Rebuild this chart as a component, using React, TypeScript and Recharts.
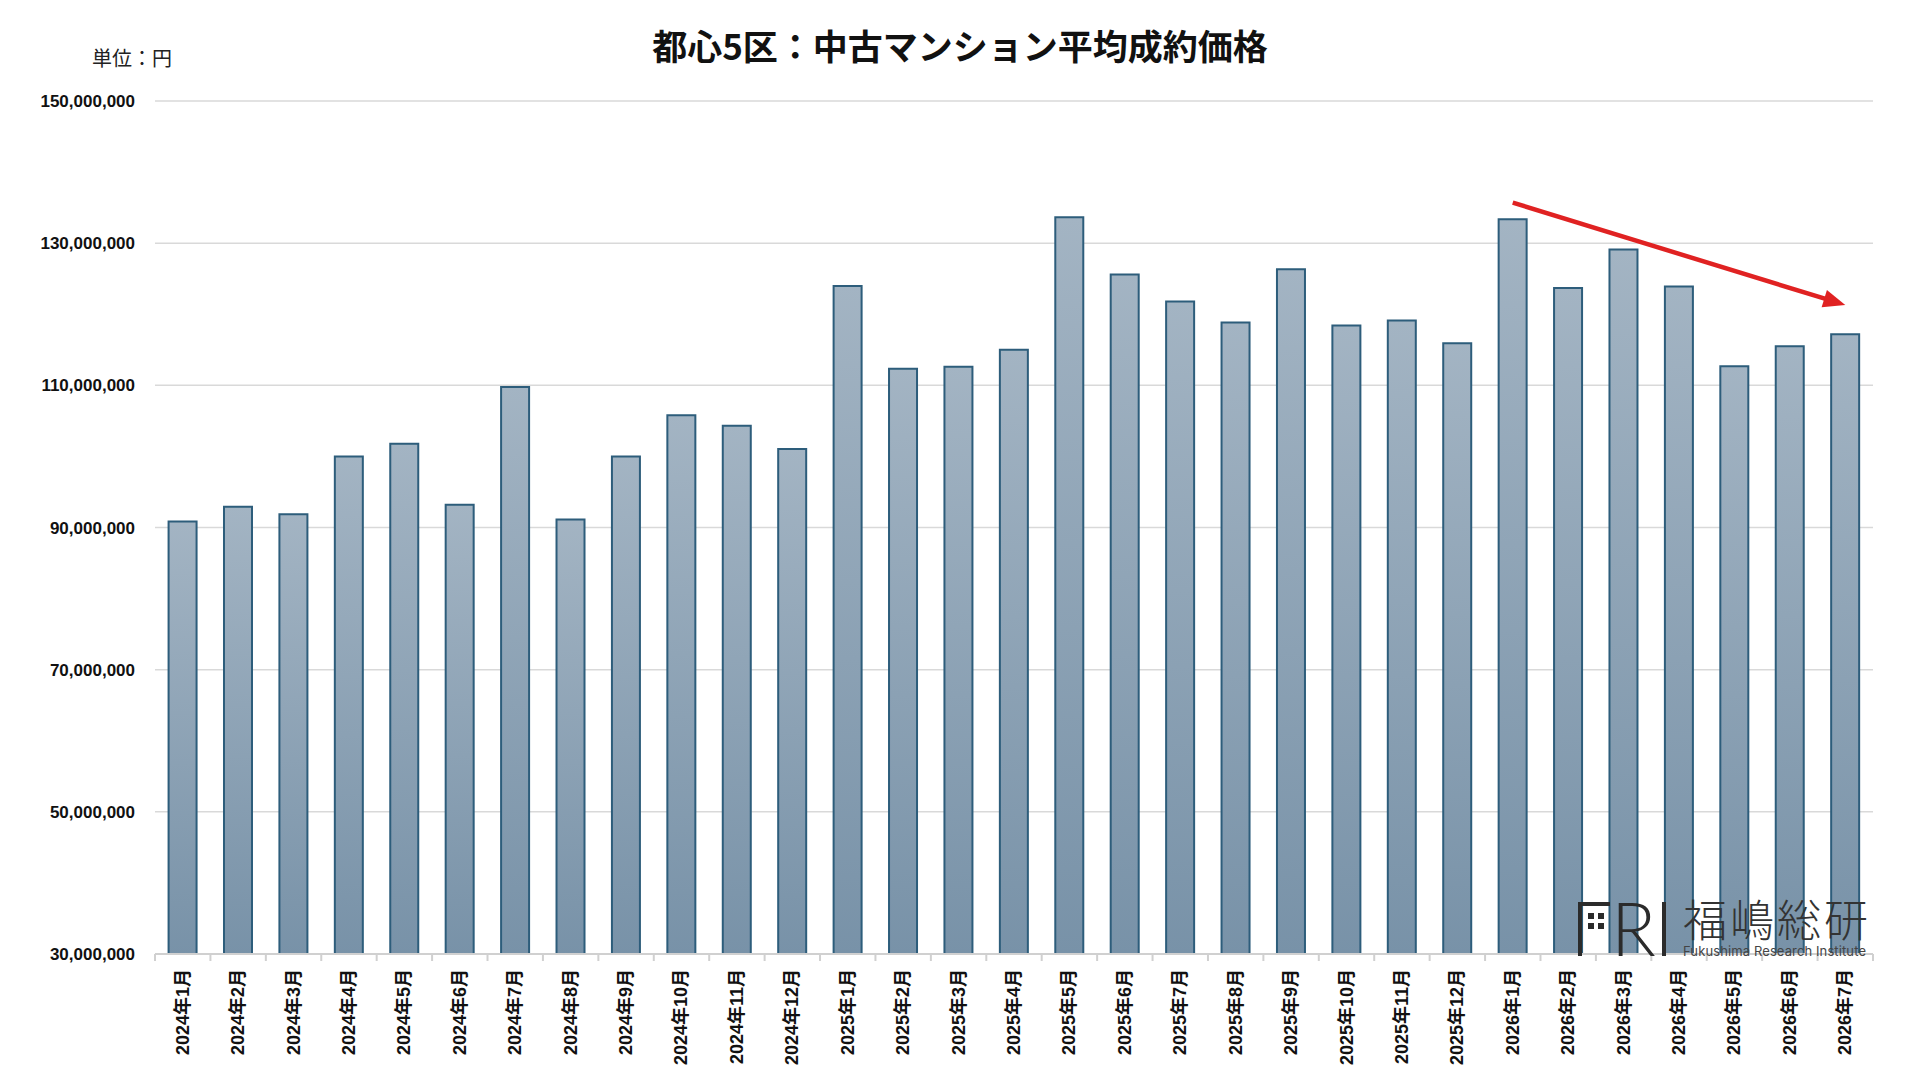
import React from 'react';
import {
    BarChart,
    Bar,
    XAxis,
    YAxis,
    CartesianGrid,
    ReferenceLine
} from 'recharts';

// 月ラベル（2024年1月〜2026年7月）
const months = [
    '2024年1月', '2024年2月', '2024年3月', '2024年4月', '2024年5月', '2024年6月',
    '2024年7月', '2024年8月', '2024年9月', '2024年10月', '2024年11月', '2024年12月',
    '2025年1月', '2025年2月', '2025年3月', '2025年4月', '2025年5月', '2025年6月',
    '2025年7月', '2025年8月', '2025年9月', '2025年10月', '2025年11月', '2025年12月',
    '2026年1月', '2026年2月', '2026年3月', '2026年4月', '2026年5月', '2026年6月',
    '2026年7月'
];

// 平均成約価格（円）
const prices = [
    90840000, 92930000, 91860000, 100000000, 101770000, 93210000,
    109770000, 91120000, 100000000, 105780000, 104330000, 101050000,
    123970000, 112340000, 112630000, 115020000, 133660000, 125590000,
    121780000, 118830000, 126340000, 118400000, 119110000, 115920000,
    133350000, 123700000, 129100000, 123900000, 112700000, 115500000,
    117200000
];

const yTicks = [30000000, 50000000, 70000000, 90000000, 110000000, 130000000, 150000000];

// 下落トレンドの矢印（始点・終点）
const trendArrow = [
    { x: '2026年1月', y: 135700000 },
    { x: '2026年7月', y: 121300000 }
];

const data = months.map((month, i) => ({ month, price: prices[i] }));

const CHART_W = 1920;
const CHART_H = 1080;
const MARGIN = { top: 101, right: 47, bottom: 0, left: 0 };
const Y_AXIS_W = 155;
const STEP = (CHART_W - MARGIN.left - MARGIN.right - Y_AXIS_W) / months.length;

const NUM_FONT = '"Liberation Sans", Arial, "Noto Sans CJK JP", sans-serif';
const JP_FONT = '"Noto Sans CJK JP", "Noto Sans", sans-serif';

const formatYen = (v: number) => v.toLocaleString('en-US');

const MonthTick = (props: any) => {
    const { x, y, payload, index } = props;
    const ty = y + 15;
    return (
        <g>
            <line x1={x - STEP / 2} x2={x - STEP / 2} y1={y} y2={y + 7} stroke="#d0d0d0" strokeWidth={2} />
            {index === months.length - 1 && (
                <line x1={x + STEP / 2} x2={x + STEP / 2} y1={y} y2={y + 7} stroke="#d0d0d0" strokeWidth={2} />
            )}
            <text
                x={x}
                y={ty}
                transform={`rotate(-90, ${x}, ${ty})`}
                textAnchor="end"
                dominantBaseline="central"
                fontSize={18}
                fontWeight="bold"
                fill="#111"
                fontFamily={NUM_FONT}
            >
                {payload.value}
            </text>
        </g>
    );
};

const ArrowShape = (props: any) => {
    const { x1, y1, x2, y2 } = props;
    if ([x1, y1, x2, y2].some(v => typeof v !== 'number')) return null;
    const dx = x2 - x1;
    const dy = y2 - y1;
    const len = Math.sqrt(dx * dx + dy * dy);
    const ux = dx / len;
    const uy = dy / len;
    const head = 22;
    const half = 9;
    const bx = x2 - ux * head;
    const by = y2 - uy * head;
    return (
        <g>
            <line x1={x1} y1={y1} x2={bx + ux * 4} y2={by + uy * 4} stroke="#e02222" strokeWidth={4.5} />
            <polygon
                points={`${x2},${y2} ${bx - uy * half},${by + ux * half} ${bx + uy * half},${by - ux * half}`}
                fill="#e02222"
            />
        </g>
    );
};

const FriLogo = () => (
    <svg
        width={CHART_W}
        height={CHART_H}
        style={{ position: 'absolute', left: 0, top: 0, pointerEvents: 'none' }}
    >
        {/* F */}
        <rect x={1578} y={902} width={4} height={54} fill="#2b2b2b" />
        <rect x={1578} y={902} width={32} height={4} fill="#2b2b2b" />
        <rect x={1588} y={913} width={6} height={6} fill="#2b2b2b" />
        <rect x={1598} y={913} width={6} height={6} fill="#2b2b2b" />
        <rect x={1588} y={923} width={6} height={6} fill="#2b2b2b" />
        <rect x={1598} y={923} width={6} height={6} fill="#2b2b2b" />
        {/* R I */}
        <text x={1611} y={956} fontSize={74} fontWeight={300} fill="#2b2b2b" fontFamily='Lato, "Noto Sans", sans-serif'>R</text>
        <rect x={1662} y={902} width={4} height={54} fill="#2b2b2b" />
        <text x={1683} y={937} fontSize={44} fontWeight={300} fill="#333" fontFamily={JP_FONT} textLength={185}>福嶋総研</text>
        <text x={1683} y={956} fontSize={13} fill="#444" fontFamily='Inter, "Noto Sans", sans-serif' textLength={183}>Fukushima Research Institute</text>
    </svg>
);

export default function App() {
    return (
        <div style={{ position: 'absolute', left: 0, top: 0, width: CHART_W, height: CHART_H, background: '#fff' }}>
            <div
                style={{
                    position: 'absolute',
                    left: 0,
                    width: CHART_W,
                    top: 23,
                    textAlign: 'center',
                    paddingLeft: 0,
                    boxSizing: 'border-box',
                    fontFamily: JP_FONT,
                    fontWeight: 'bold',
                    fontSize: 35,
                    color: '#111',
                    lineHeight: '44px'
                }}
            >
                都心5区：中古マンション平均成約価格
            </div>
            <div
                style={{
                    position: 'absolute',
                    left: 92,
                    top: 46,
                    fontFamily: JP_FONT,
                    fontSize: 20,
                    color: '#222',
                    lineHeight: '24px'
                }}
            >
                単位：円
            </div>
            <BarChart
                width={CHART_W}
                height={CHART_H}
                data={data}
                margin={MARGIN}
                barCategoryGap="24.5%"
            >
                <defs>
                    <linearGradient id="barFill" x1="0" y1="0" x2="0" y2="1">
                        <stop offset="0%" stopColor="#a3b4c3" />
                        <stop offset="100%" stopColor="#7892a8" />
                    </linearGradient>
                </defs>
                <CartesianGrid vertical={false} stroke="#d9d9d9" strokeWidth={1.5} />
                <XAxis
                    dataKey="month"
                    interval={0}
                    height={126}
                    tickLine={false}
                    tickSize={0}
                    tickMargin={0}
                    axisLine={{ stroke: '#d0d0d0', strokeWidth: 2 }}
                    tick={<MonthTick />}
                />
                <YAxis
                    width={Y_AXIS_W}
                    domain={[30000000, 150000000]}
                    ticks={yTicks}
                    allowDataOverflow
                    axisLine={false}
                    tickLine={false}
                    tickSize={0}
                    tickMargin={20}
                    tickFormatter={formatYen}
                    tick={{ fontSize: 17, fontWeight: 'bold', fill: '#111', fontFamily: NUM_FONT }}
                />
                <Bar
                    dataKey="price"
                    fill="url(#barFill)"
                    stroke="#2d5d7b"
                    strokeWidth={2}
                    isAnimationActive={false}
                />
                <ReferenceLine
                    segment={trendArrow}
                    stroke="#e02222"
                    shape={<ArrowShape />}
                />
            </BarChart>
            <FriLogo />
        </div>
    );
}
